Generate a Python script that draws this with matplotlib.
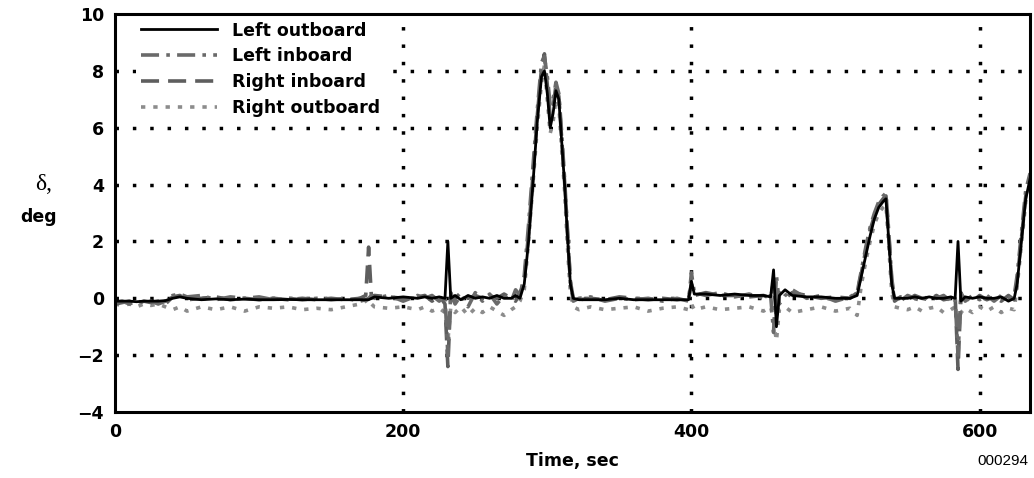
import matplotlib
matplotlib.use("Agg")
import matplotlib.pyplot as plt

plt.rcParams["font.family"] = ["DejaVu Sans"]

# time, sec (shared by all four surfaces)
t = [0, 5, 10, 15, 20, 25, 30, 35, 40, 45,
     50, 60, 70, 80, 90, 100, 110, 120, 130, 140,
     150, 160, 170, 174, 176, 178, 180, 190, 200, 210,
     215, 220, 225, 229, 231, 233, 236, 240, 245, 250,
     255, 260, 265, 270, 275, 278, 281, 284, 287, 290,
     293, 296, 298, 300, 302, 304, 306, 308, 310, 312,
     314, 316, 318, 322, 330, 340, 350, 360, 370, 380,
     390, 398, 400, 402, 410, 420, 430, 440, 450, 455,
     457, 459, 461, 465, 470, 480, 490, 500, 510, 515,
     518, 521, 524, 527, 530, 533, 535, 537, 539, 541,
     545, 550, 555, 560, 565, 570, 575, 580, 583, 585,
     587, 590, 595, 600, 605, 610, 615, 620, 624, 626,
     628, 630, 632, 635]

left_outboard = [-0.1, -0.1, -0.1, -0.12, -0.1, -0.1, -0.1, -0.08, 0.0, 0.05,
                 0.0, -0.05, -0.02, -0.05, -0.03, -0.05, -0.05, -0.04, -0.05, -0.05,
                 -0.05, -0.05, -0.05, -0.05, -0.05, 0.0, 0.05, 0.0, 0.05, 0.0,
                 0.05, 0.0, 0.05, 0.0, 2.0, 0.0, 0.1, -0.05, 0.1, 0.0,
                 0.05, 0.0, 0.1, 0.0, 0.0, 0.1, 0.0, 0.5, 2.0, 4.0,
                 6.2, 7.8, 8.0, 7.2, 6.0, 6.5, 7.3, 7.0, 5.5, 4.0,
                 2.2, 0.5, 0.0, -0.05, -0.05, -0.05, 0.0, -0.05, -0.05, -0.05,
                 -0.05, -0.05, 0.6, 0.15, 0.15, 0.1, 0.15, 0.1, 0.1, 0.05,
                 1.0, -1.0, 0.1, 0.3, 0.1, 0.05, 0.05, 0.0, 0.0, 0.1,
                 0.8, 1.5, 2.2, 2.8, 3.2, 3.4, 3.5, 2.0, 0.5, 0.0,
                 0.0, 0.0, 0.05, 0.0, 0.05, 0.0, 0.0, 0.05, 0.0, 2.0,
                 -0.1, 0.05, 0.0, 0.05, 0.0, 0.0, 0.05, -0.1, 0.0, 0.5,
                 1.5, 2.5, 3.5, 4.2]

left_inboard = [-0.15, -0.1, -0.2, -0.1, -0.15, -0.1, -0.2, -0.1, 0.1, 0.15,
                0.05, 0.1, -0.05, 0.05, 0.0, 0.05, -0.05, 0.0, -0.05, 0.0,
                -0.05, 0.0, -0.1, -0.05, 0.0, 0.1, 0.0, 0.1, -0.1, 0.1,
                0.0, 0.1, -0.1, 0.1, -2.0, 0.2, -0.2, 0.1, -0.3, 0.2,
                -0.1, 0.15, -0.2, 0.1, -0.1, 0.3, 0.1, 0.8, 2.6, 4.6,
                6.6, 8.3, 8.5, 7.8, 6.8, 7.0, 7.6, 7.2, 5.8, 4.2,
                2.4, 0.6, -0.1, 0.0, 0.05, -0.1, 0.0, -0.05, 0.0, -0.1,
                0.0, -0.1, 0.9, 0.2, 0.1, 0.2, 0.05, 0.15, 0.0, 0.1,
                -1.2, 0.8, -0.2, 0.1, 0.3, 0.0, 0.1, -0.1, 0.05, 0.2,
                1.0, 1.8, 2.5, 3.0, 3.4, 3.6, 3.7, 2.3, 0.7, 0.0,
                -0.1, 0.1, 0.0, -0.1, 0.1, 0.0, 0.1, -0.1, 0.0, -2.0,
                0.2, -0.1, 0.1, -0.05, 0.1, -0.1, 0.1, 0.0, 0.1, 0.8,
                1.8, 2.8, 3.8, 4.4]

right_inboard = [-0.2, -0.15, -0.1, -0.2, -0.1, -0.15, -0.1, -0.2, 0.05, 0.1,
                 -0.05, 0.0, 0.05, -0.05, 0.0, -0.05, 0.0, -0.05, 0.0, -0.05,
                 0.0, -0.05, 0.0, 0.1, 1.8, 0.0, 0.1, 0.05, 0.0, 0.05,
                 0.1, -0.1, 0.1, -0.2, -2.4, 0.1, 0.0, 0.2, 0.0, 0.1,
                 0.0, 0.1, 0.0, 0.15, 0.0, -0.1, 0.2, 0.6, 2.3, 4.3,
                 6.4, 8.1, 8.6, 7.5, 6.4, 6.7, 7.5, 7.1, 5.6, 4.1,
                 2.3, 0.6, 0.0, -0.05, 0.0, -0.05, 0.05, 0.0, -0.05, 0.0,
                 -0.05, 0.0, 0.5, 0.1, 0.2, 0.1, 0.1, 0.05, 0.1, 0.0,
                 0.6, -0.6, 0.2, 0.0, 0.2, 0.1, 0.0, 0.05, 0.0, 0.2,
                 0.9, 1.7, 2.4, 2.9, 3.3, 3.5, 3.6, 2.2, 0.6, -0.1,
                 0.05, -0.05, 0.1, 0.0, -0.05, 0.1, -0.05, 0.0, 0.1, -2.5,
                 0.1, 0.0, -0.1, 0.1, -0.05, 0.05, -0.1, 0.1, -0.05, 0.6,
                 1.6, 2.6, 3.6, 4.3]

right_outboard = [-0.2, -0.25, -0.2, -0.3, -0.2, -0.25, -0.2, -0.3, -0.4, -0.3,
                  -0.45, -0.3, -0.4, -0.3, -0.45, -0.3, -0.35, -0.3, -0.4, -0.35,
                  -0.4, -0.3, -0.2, -0.1, 0.0, -0.2, -0.3, -0.35, -0.3, -0.4,
                  -0.3, -0.45, -0.35, -0.5, -1.5, -0.3, -0.5, -0.3, -0.6, -0.35,
                  -0.5, -0.3, -0.45, -0.6, -0.4, -0.3, -0.1, 0.3, 2.0, 4.0,
                  6.0, 7.6, 8.2, 7.0, 5.8, 6.2, 7.0, 6.8, 5.2, 3.8,
                  1.8, 0.2, -0.3, -0.4, -0.3, -0.4, -0.35, -0.3, -0.45, -0.35,
                  -0.3, -0.4, -0.2, -0.4, -0.3, -0.4, -0.35, -0.3, -0.45, -0.3,
                  -0.8, -1.5, -0.4, -0.3, -0.5, -0.4, -0.3, -0.45, -0.35, -0.6,
                  0.5, 1.3, 2.0, 2.6, 3.0, 3.2, 3.3, 1.8, 0.2, -0.3,
                  -0.35, -0.4, -0.3, -0.45, -0.35, -0.3, -0.5, -0.4, -0.3, -1.2,
                  -0.5, -0.35, -0.5, -0.3, -0.45, -0.3, -0.5, -0.35, -0.4, 0.4,
                  1.4, 2.4, 3.4, 4.0]

fig = plt.figure(figsize=(10.34, 4.78), dpi=100)
ax = fig.add_axes([0.1112, 0.138, 0.885, 0.8327])

ax.plot(t, right_outboard, color="#8c8c8c", lw=2.6, linestyle=(0, (1.2, 2.2)), label="Right outboard", zorder=2)
ax.plot(t, right_inboard, color="#5e5e5e", lw=2.6, linestyle=(0, (5, 2.5)), label="Right inboard", zorder=3)
ax.plot(t, left_inboard, color="#6a6a6a", lw=2.6, linestyle=(0, (5, 2, 1, 2)), label="Left inboard", zorder=4)
ax.plot(t, left_outboard, color="black", lw=2.0, label="Left outboard", zorder=5)

ax.set_xlim(0, 635)
ax.set_ylim(-4, 10)
ax.set_xticks([0, 200, 400, 600])
ax.set_yticks([-4, -2, 0, 2, 4, 6, 8, 10])
ax.set_yticklabels(["\u22124", "\u22122", "0", "2", "4", "6", "8", "10"])
ax.tick_params(length=0, labelsize=12.5, pad=8)
for lab in ax.get_xticklabels() + ax.get_yticklabels():
    lab.set_fontweight("bold")
ax.grid(True, color="black", linestyle=(0, (1, 4)), lw=2.5)
# no dotted grid along the frame itself
ax.get_xgridlines()[0].set_visible(False)
ax.get_ygridlines()[0].set_visible(False)
ax.get_ygridlines()[-1].set_visible(False)
for s in ax.spines.values():
    s.set_linewidth(2.2)
    s.set_zorder(6)

ax.set_xlabel("Time, sec", fontsize=12.5, fontweight="bold", labelpad=8)

handles, labels = ax.get_legend_handles_labels()
leg = ax.legend(handles[::-1], labels[::-1], loc="upper left", bbox_to_anchor=(0.013, 1.016),
                frameon=True, facecolor="white", edgecolor="none", framealpha=1.0,
                borderpad=0.3, handlelength=4.4, handletextpad=0.85, labelspacing=0.45,
                prop={"weight": "bold", "size": 12.5})
leg.set_zorder(5.5)

fig.text(0.042, 0.615, "\u03b4,", fontsize=17, family=["Liberation Serif", "DejaVu Serif"],
         ha="center", va="center")
fig.text(0.037, 0.545, "deg", fontsize=12.5, fontweight="bold", ha="center", va="center")
fig.text(0.995, 0.035, "000294", fontsize=11, family=["Liberation Sans", "DejaVu Sans"],
         ha="right", va="center")

fig.savefig("out.png", dpi=100)
